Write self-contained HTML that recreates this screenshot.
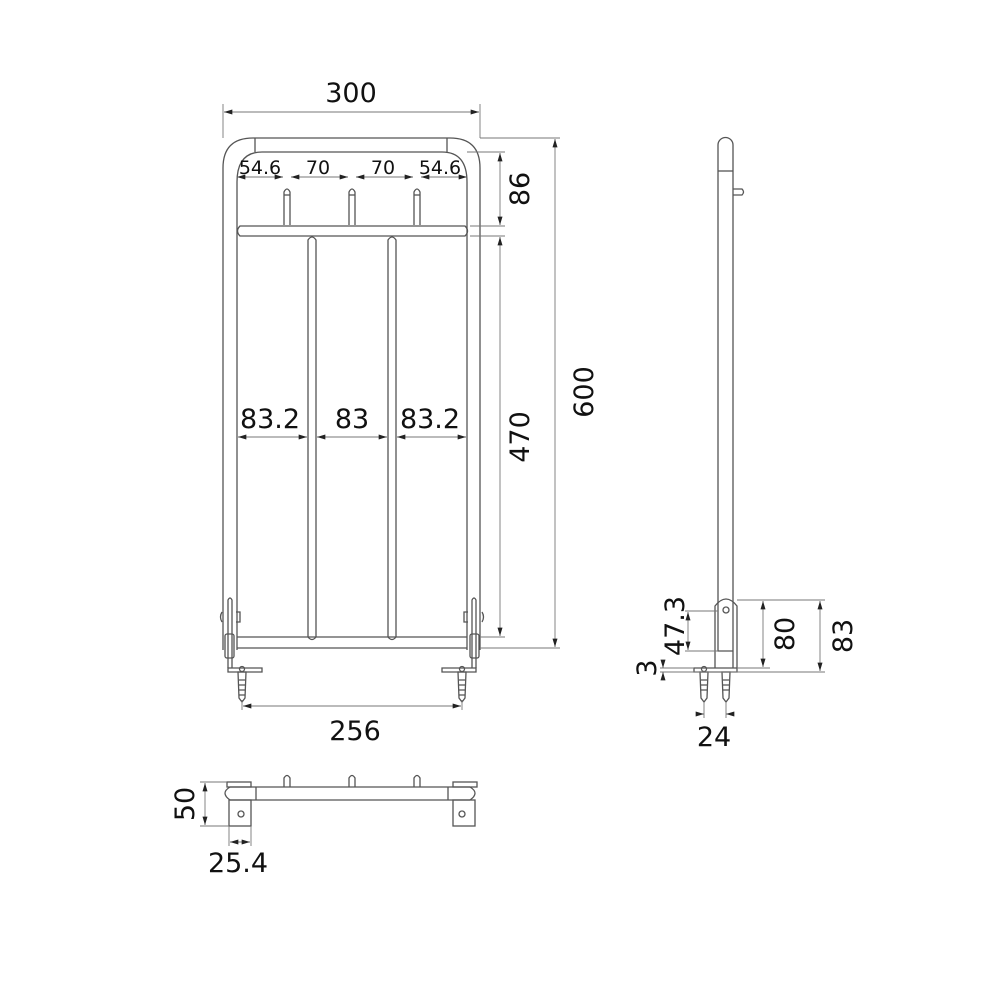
<!DOCTYPE html>
<html><head><meta charset="utf-8"><style>
html,body{margin:0;padding:0;background:#fff}
svg{display:block}
text{font-family:"DejaVu Sans","Liberation Sans",sans-serif;fill:#111}
</style></head><body>
<svg width="1000" height="1000" viewBox="0 0 1000 1000" xmlns="http://www.w3.org/2000/svg">
<defs>
<marker id="a" viewBox="0 0 10 6" refX="10" refY="3" markerWidth="9" markerHeight="5" orient="auto-start-reverse" markerUnits="userSpaceOnUse"><path d="M0,0L10,3L0,6z" fill="#222"/></marker>
</defs>
<g fill="none" stroke="#555" stroke-width="1.3">
<path d="M223,650 V168 Q223,138 253,138 H450 Q480,138 480,168 V650"/>
<path d="M237,650 V182 Q237,152 262,152 H442 Q467,152 467,182 V650"/>
<line x1="255" y1="138" x2="255" y2="152"/>
<line x1="447" y1="138" x2="447" y2="152"/>
<path d="M284,225 V192 Q287,186 290,192 V225"/><line x1="284" y1="195" x2="290" y2="195"/>
<path d="M349,225 V192 Q352,186 355,192 V225"/><line x1="349" y1="195" x2="355" y2="195"/>
<path d="M414,225 V192 Q417,186 420,192 V225"/><line x1="414" y1="195" x2="420" y2="195"/>
<path d="M240,226 H465 Q470,231 465,236 H240 Q235,231 240,226 Z"/>
<path d="M308,637 V240 Q312,234 316,240 V637"/>
<path d="M388,637 V240 Q392,234 396,240 V637"/>
<path d="M237,637 H467 M237,648 H467"/>
<path d="M308,637 Q312,642 316,637 M388,637 Q392,642 396,637"/>
<path d="M228,668 V600 Q230,596 232,600 V668"/>
<rect x="225" y="634" width="9" height="24" rx="2"/>
<path d="M222,612 Q219,617 222,622 M236,612 h4 v10 h-4"/>
<path d="M228,668 H262 V672 H228 Z"/>
<path d="M238,672 h8 l-1,26 l-3,4 l-3,-4 z"/><circle cx="242" cy="669" r="2.5"/>
<path d="M239,680 h6 M239,685 h6 M239,690 h6 M239,695 h6"/>
<path d="M472,668 V600 Q474,596 476,600 V668"/>
<rect x="470" y="634" width="9" height="24" rx="2"/>
<path d="M482,612 Q485,617 482,622 M468,612 h-4 v10 h4"/>
<path d="M442,668 H476 V672 H442 Z"/>
<path d="M458,672 h8 l-1,26 l-3,4 l-3,-4 z"/><circle cx="462" cy="669" r="2.5"/>
<path d="M459,680 h6 M459,685 h6 M459,690 h6 M459,695 h6"/>

<path d="M718,600 V145 A7.5,7.5 0 0 1 733,145 V600"/>
<line x1="718" y1="171" x2="733" y2="171"/>
<path d="M733,189 H742 Q745,192 742,195 H733"/>
<path d="M715,668 V606 Q726,592 737,606 V668"/>
<path d="M718,600 V651 H733"/><line x1="733" y1="600" x2="733" y2="668"/>
<circle cx="726" cy="610" r="3"/>
<path d="M694,668 H737 V672 H694 Z"/>
<path d="M700,672 h8 l-1,26 l-3,4 l-3,-4 z"/><circle cx="704" cy="669" r="2.5"/>
<path d="M722,672 h8 l-1,26 l-3,4 l-3,-4 z"/>
<path d="M701,680 h6 M701,685 h6 M701,690 h6 M723,680 h6 M723,685 h6 M723,690 h6"/>

<path d="M230,787 H470 M230,800 H470"/>
<path d="M230,787 Q220,793 230,800"/>
<path d="M470,787 Q480,793 470,800"/>
<line x1="256" y1="787" x2="256" y2="800"/><line x1="448" y1="787" x2="448" y2="800"/>
<rect x="227" y="782" width="24" height="5"/><rect x="453" y="782" width="24" height="5"/>
<rect x="229" y="800" width="22" height="26"/><rect x="453" y="800" width="22" height="26"/>
<circle cx="241" cy="814" r="3"/><circle cx="462" cy="814" r="3"/>
<path d="M284,787 V778 Q287,773 290,778 V787"/>
<path d="M349,787 V778 Q352,773 355,778 V787"/>
<path d="M414,787 V778 Q417,773 420,778 V787"/>
</g>

<g fill="none" stroke="#777" stroke-width="0.9">
<line x1="223" y1="104" x2="223" y2="138"/><line x1="480" y1="104" x2="480" y2="138"/>
<line x1="224" y1="112" x2="479" y2="112" marker-start="url(#a)" marker-end="url(#a)"/>
<line x1="237" y1="177" x2="283" y2="177" marker-start="url(#a)" marker-end="url(#a)"/>
<line x1="291" y1="177" x2="348" y2="177" marker-start="url(#a)" marker-end="url(#a)"/>
<line x1="356" y1="177" x2="413" y2="177" marker-start="url(#a)" marker-end="url(#a)"/>
<line x1="421" y1="177" x2="467" y2="177" marker-start="url(#a)" marker-end="url(#a)"/>
<line x1="480" y1="138" x2="560" y2="138"/><line x1="467" y1="152" x2="505" y2="152"/>
<line x1="470" y1="226" x2="505" y2="226"/><line x1="470" y1="236" x2="505" y2="236"/>
<line x1="480" y1="637" x2="505" y2="637"/><line x1="480" y1="648" x2="560" y2="648"/>
<line x1="500" y1="153" x2="500" y2="225" marker-start="url(#a)" marker-end="url(#a)"/>
<line x1="500" y1="237" x2="500" y2="636" marker-start="url(#a)" marker-end="url(#a)"/>
<line x1="555" y1="139" x2="555" y2="647" marker-start="url(#a)" marker-end="url(#a)"/>
<line x1="238" y1="437" x2="307" y2="437" marker-start="url(#a)" marker-end="url(#a)"/>
<line x1="317" y1="437" x2="387" y2="437" marker-start="url(#a)" marker-end="url(#a)"/>
<line x1="397" y1="437" x2="466" y2="437" marker-start="url(#a)" marker-end="url(#a)"/>
<line x1="242" y1="700" x2="242" y2="710"/><line x1="462" y1="700" x2="462" y2="710"/>
<line x1="243" y1="706" x2="461" y2="706" marker-start="url(#a)" marker-end="url(#a)"/>
<line x1="737" y1="600" x2="825" y2="600"/><line x1="737" y1="668" x2="770" y2="668"/>
<line x1="660" y1="672" x2="825" y2="672"/>
<line x1="763" y1="601" x2="763" y2="667" marker-start="url(#a)" marker-end="url(#a)"/>
<line x1="820" y1="601" x2="820" y2="671" marker-start="url(#a)" marker-end="url(#a)"/>
<line x1="685" y1="611" x2="718" y2="611"/><line x1="685" y1="651" x2="718" y2="651"/>
<line x1="688" y1="612" x2="688" y2="650" marker-start="url(#a)" marker-end="url(#a)"/>
<line x1="660" y1="668" x2="694" y2="668"/>
<line x1="663" y1="662" x2="663" y2="668" marker-end="url(#a)"/>
<line x1="663" y1="678" x2="663" y2="672" marker-end="url(#a)"/>
<line x1="704" y1="702" x2="704" y2="718"/><line x1="726" y1="702" x2="726" y2="718"/>
<line x1="696" y1="714" x2="704" y2="714" marker-end="url(#a)"/>
<line x1="734" y1="714" x2="726" y2="714" marker-end="url(#a)"/>
<line x1="200" y1="782" x2="227" y2="782"/><line x1="200" y1="826" x2="229" y2="826"/>
<line x1="205" y1="783" x2="205" y2="825" marker-start="url(#a)" marker-end="url(#a)"/>
<line x1="229" y1="826" x2="229" y2="846"/><line x1="251" y1="826" x2="251" y2="846"/>
<line x1="230" y1="842" x2="250" y2="842" marker-start="url(#a)" marker-end="url(#a)"/>
</g>

<g font-size="27" text-anchor="middle">
<text x="351" y="102">300</text>
<text x="355" y="740">256</text>
<text x="270" y="428">83.2</text>
<text x="352" y="428">83</text>
<text x="430" y="428">83.2</text>
<text x="714" y="746">24</text>
<text x="238" y="872">25.4</text>
<text transform="translate(529,189) rotate(-90)">86</text>
<text transform="translate(529,437) rotate(-90)">470</text>
<text transform="translate(593,392) rotate(-90)">600</text>
<text transform="translate(794,634) rotate(-90)">80</text>
<text transform="translate(852,636) rotate(-90)">83</text>
<text transform="translate(684,626) rotate(-90)">47.3</text>
<text transform="translate(656,668) rotate(-90)">3</text>
<text transform="translate(194,804) rotate(-90)">50</text>
</g>
<g font-size="19" text-anchor="middle">
<text x="260" y="174">54.6</text>
<text x="318" y="174">70</text>
<text x="383" y="174">70</text>
<text x="440" y="174">54.6</text>
</g>
</svg>
</body></html>
